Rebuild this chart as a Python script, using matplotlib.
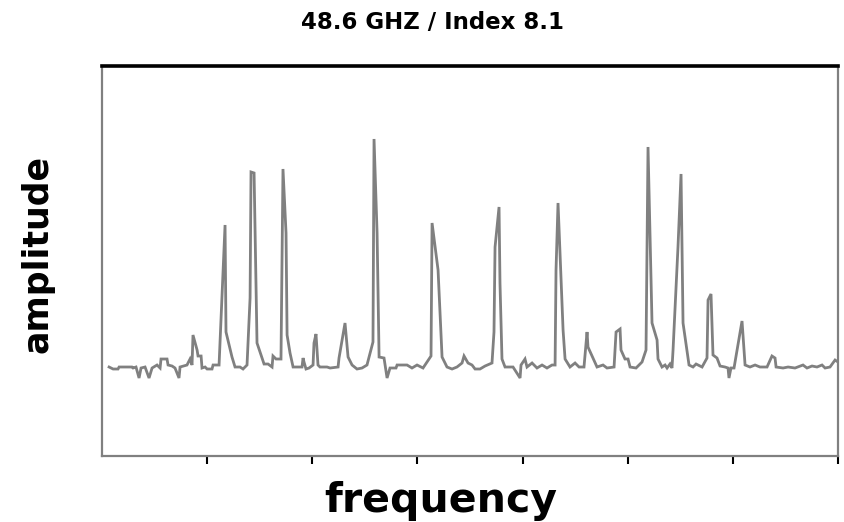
import matplotlib
matplotlib.use("Agg")
import matplotlib.pyplot as plt

title = "48.6 GHZ / Index 8.1"
xlabel = "frequency"
ylabel = "amplitude"

freq = [0.067, 0.105, 0.152, 0.162, 0.285, 0.295, 0.323, 0.352, 0.371, 0.409,
        0.447, 0.476, 0.523, 0.552, 0.561, 0.618, 0.628, 0.666, 0.694, 0.732,
        0.742, 0.808, 0.837, 0.856, 0.865, 0.904, 0.913, 0.942, 0.951, 0.980,
        0.999, 1.046, 1.056, 1.113, 1.170, 1.179, 1.236, 1.265, 1.312, 1.341,
        1.379, 1.389, 1.408, 1.417, 1.446, 1.474, 1.522, 1.541, 1.579, 1.617,
        1.626, 1.655, 1.702, 1.721, 1.750, 1.760, 1.788, 1.817, 1.902, 1.912,
        1.921, 1.940, 1.969, 2.007, 2.016, 2.035, 2.054, 2.073, 2.140, 2.169,
        2.245, 2.254, 2.311, 2.340, 2.378, 2.425, 2.473, 2.520, 2.577, 2.587,
        2.616, 2.635, 2.682, 2.711, 2.739, 2.796, 2.806, 2.901, 2.948, 2.996,
        3.053, 3.129, 3.139, 3.196, 3.234, 3.281, 3.329, 3.376, 3.424, 3.443,
        3.481, 3.519, 3.548, 3.595, 3.643, 3.709, 3.728, 3.738, 3.776, 3.785,
        3.804, 3.833, 3.909, 3.976, 3.985, 4.023, 4.042, 4.090, 4.137, 4.185,
        4.232, 4.280, 4.309, 4.318, 4.337, 4.385, 4.404, 4.451, 4.499, 4.537,
        4.584, 4.613, 4.622, 4.708, 4.765, 4.803, 4.870, 4.889, 4.927, 4.936,
        4.974, 5.003, 5.022, 5.079, 5.136, 5.174, 5.193, 5.231, 5.279, 5.288,
        5.326, 5.355, 5.374, 5.402, 5.421, 5.431, 5.478, 5.507, 5.526, 5.583,
        5.621, 5.650, 5.707, 5.754, 5.764, 5.792, 5.811, 5.849, 5.878, 5.925,
        5.954, 5.963, 5.982, 6.011, 6.087, 6.116, 6.163, 6.211, 6.258, 6.325,
        6.372, 6.401, 6.411, 6.477, 6.525, 6.591, 6.667, 6.705, 6.753, 6.800,
        6.848, 6.877, 6.924, 6.972, 7.000, 7.050]

amplitude = [0.0, -0.2, -0.2, 0.0, 0.0, -0.1, 0.0, -1.1, -0.1, 0.0,
             -1.1, -0.1, 0.2, -0.1, 0.8, 0.8, 0.2, 0.1, -0.1, -1.1,
             0.0, 0.2, 0.8, 0.2, 3.2, 1.7, 1.1, 1.1, -0.1, 0.0,
             -0.2, -0.2, 0.2, 0.2, 14.2, 3.5, 1.0, 0.0, 0.0, -0.2,
             0.2, 2.5, 6.9, 19.5, 19.4, 2.4, 0.9, 0.3, 0.3, 0.0,
             1.1, 0.8, 0.8, 19.8, 13.4, 3.2, 1.4, 0.0, 0.0, 0.9,
             0.5, -0.2, -0.1, 0.2, 2.4, 3.3, 0.2, 0.0, 0.0, -0.1,
             0.0, 0.9, 4.4, 1.0, 0.2, -0.2, -0.1, 0.2, 2.5, 22.8,
             13.4, 1.0, 0.9, -1.1, -0.1, -0.1, 0.2, 0.2, -0.1, 0.2,
             -0.1, 1.1, 14.4, 9.7, 1.0, 0.0, -0.2, 0.0, 0.4, 1.1,
             0.4, 0.2, -0.2, -0.2, 0.1, 0.4, 3.5, 12.0, 16.0, 8.4,
             0.8, 0.0, 0.0, -1.1, 0.2, 0.8, 0.0, 0.4, -0.1, 0.2,
             -0.1, 0.2, 0.2, 9.7, 16.4, 3.7, 0.8, 0.0, 0.4, 0.0,
             0.0, 3.5, 2.0, 0.0, 0.2, -0.1, 0.0, 3.5, 3.8, 1.7,
             0.8, 0.8, 0.0, -0.1, 0.5, 1.7, 22.0, 4.4, 2.7, 0.8,
             0.0, 0.2, -0.1, 0.3, -0.1, 1.7, 12.0, 19.3, 4.4, 0.2,
             0.0, 0.3, 0.0, 0.9, 6.7, 7.3, 1.2, 0.9, 0.1, 0.0,
             -0.1, -1.1, -0.1, -0.1, 4.6, 0.2, 0.0, 0.2, 0.0, 0.0,
             1.1, 0.9, 0.0, -0.1, 0.0, -0.1, 0.2, -0.1, 0.1, 0.0,
             0.2, -0.1, 0.0, 0.7, 0.5, 0.0]

xticks = [1, 2, 3, 4, 5, 6, 7]

fig = plt.figure(figsize=(8.44, 5.22), dpi=100)
ax = fig.add_axes([0.1209, 0.1264, 0.8720, 0.7472])

ax.plot(freq, amplitude, color="#808080", linewidth=2.0, solid_joinstyle="miter")

ax.set_xlim(0, 7)
ax.set_ylim(-8.9, 30.1)
ax.set_xticks(xticks)
ax.set_xticklabels([])
ax.set_yticks([])
ax.tick_params(axis="x", direction="out", length=5.5, width=1.5, color="black")

for side in ["left", "right", "bottom"]:
    ax.spines[side].set_color("#808080")
    ax.spines[side].set_linewidth(1.6)
ax.spines["top"].set_color("black")
ax.spines["top"].set_linewidth(2.6)

fig.text(0.512, 0.957, title, ha="center", va="center",
         fontsize=16.5, fontweight="bold", family="DejaVu Sans")
fig.text(0.5225, 0.040, xlabel, ha="center", va="center",
         fontsize=29.5, fontweight="bold", family="DejaVu Sans")
fig.text(0.044, 0.514, ylabel, ha="center", va="center", rotation=90,
         fontsize=25, fontweight="bold", family="DejaVu Sans")

fig.savefig("out.png", dpi=100)
